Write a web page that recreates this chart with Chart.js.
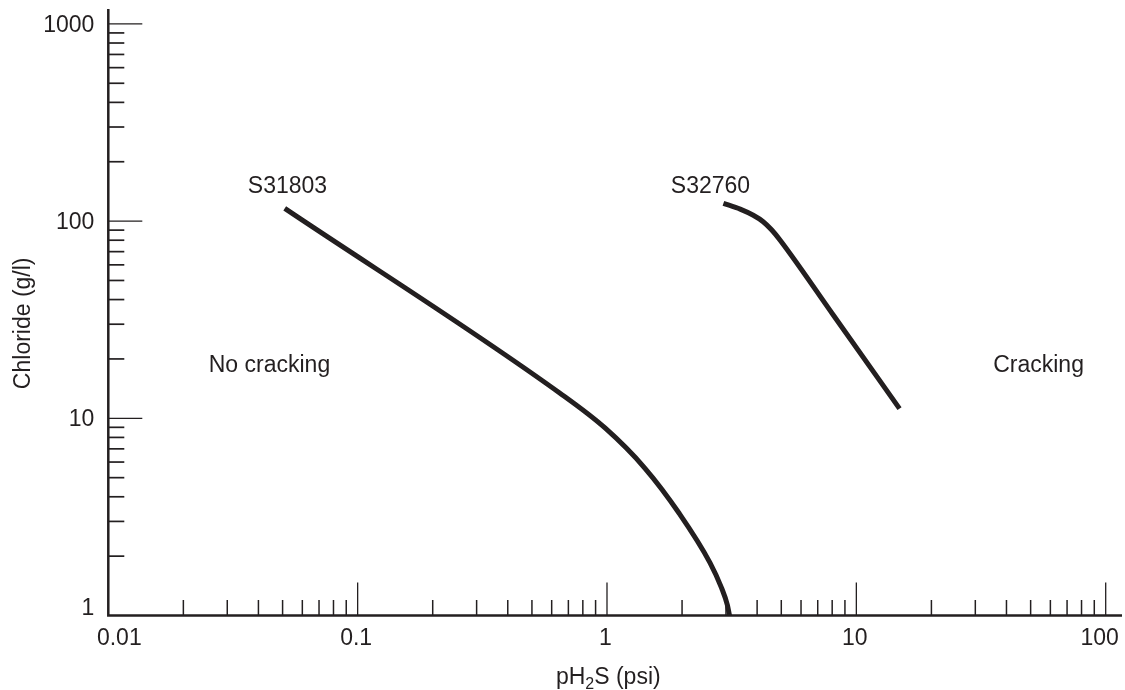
<!DOCTYPE html>
<html>
<head>
<meta charset="utf-8">
<script src="https://cdn.jsdelivr.net/npm/chart.js@4.4.1/dist/chart.umd.min.js"></script>
<style>
  html, body { margin: 0; padding: 0; background: #ffffff; }
  #wrap { width: 1125px; height: 690px; }
</style>
</head>
<body>
<div id="wrap"><canvas id="c" width="1125" height="690"></canvas></div>
<script>
// ---------------- data ----------------
const seriesNames = ['S31803', 'S32760'];
const s31803X = [0.051, 0.648, 0.982, 1.42, 1.95, 2.59, 2.88, 3.04, 3.10];
const s31803Y = [116, 13.4, 8.93, 5.58, 3.29, 1.85, 1.38, 1.13, 1.0];
const s32760X = [2.93, 3.42, 3.86, 4.23, 4.58, 4.94, 8.08, 14.9];
const s32760Y = [123, 115, 107, 99.3, 90.1, 80.2, 33.4, 11.2];
const regionLabels = ['No cracking', 'Cracking'];

const xTickValues = [0.01, 0.1, 1, 10, 100];
const xTickLabels = ['0.01', '0.1', '1', '10', '100'];
const xMinorTicks = [0.02, 0.03, 0.04, 0.05, 0.06, 0.07, 0.08, 0.09,
                     0.2, 0.3, 0.4, 0.5, 0.6, 0.7, 0.8, 0.9,
                     2, 3, 4, 5, 6, 7, 8, 9,
                     20, 30, 40, 50, 60, 70, 80, 90];
const yTickValues = [1, 10, 100, 1000];
const yTickLabels = ['1', '10', '100', '1000'];
const yMinorTicks = [2, 3, 4, 5, 6, 7, 8, 9,
                     20, 30, 40, 50, 60, 70, 80, 90,
                     200, 300, 400, 500, 600, 700, 800, 900];
const xTitleParts = ['pH', '2', 'S (psi)'];
const yTitle = 'Chloride (g/l)';

// ---------------- style ----------------
const FONT = '"Liberation Sans", Arial, Helvetica, sans-serif';
const INK = '#231f20';

const toPoints = (xs, ys) => xs.map((v, i) => ({ x: v, y: ys[i] }));

const paperAxes = {
  id: 'paperAxes',
  beforeDatasetsDraw(chart) {
    const { ctx, chartArea: a, scales: { x, y } } = chart;
    ctx.save();
    ctx.strokeStyle = INK;
    ctx.lineCap = 'butt';
    // x ticks (inward, upward)
    const xt = (v, len, w) => {
      const px = x.getPixelForValue(v);
      ctx.lineWidth = w;
      ctx.beginPath(); ctx.moveTo(px, a.bottom); ctx.lineTo(px, a.bottom - len); ctx.stroke();
    };
    xTickValues.slice(1).forEach(v => xt(v, 33, 1.3));
    xMinorTicks.forEach(v => xt(v, 15.5, 1.5));
    // y ticks (inward, rightward)
    const yt = (v, len, w) => {
      const py = y.getPixelForValue(v);
      ctx.lineWidth = w;
      ctx.beginPath(); ctx.moveTo(a.left, py); ctx.lineTo(a.left + len, py); ctx.stroke();
    };
    yTickValues.slice(1).forEach(v => yt(v, 34, 1.3));
    yMinorTicks.forEach(v => yt(v, 16, 1.7));
    // axis lines
    ctx.lineWidth = 2.5;
    ctx.lineJoin = 'miter';
    ctx.beginPath();
    ctx.moveTo(a.left, a.top);
    ctx.lineTo(a.left, a.bottom);
    ctx.lineTo(a.right, a.bottom);
    ctx.stroke();
    ctx.restore();
  },
  afterDraw(chart) {
    const { ctx, chartArea: a, scales: { x, y } } = chart;
    ctx.save();
    ctx.fillStyle = INK;
    ctx.font = '23px ' + FONT;
    // x tick labels
    ctx.textAlign = 'center';
    ctx.textBaseline = 'alphabetic';
    const last = xTickValues.length - 1;
    xTickValues.forEach((v, i) => {
      const dx = i === 0 ? 11 : (i === last ? -6 : -1.5);
      ctx.fillText(xTickLabels[i], x.getPixelForValue(v) + dx, a.bottom + 29.5);
    });
    // y tick labels
    ctx.textAlign = 'right';
    yTickValues.forEach((v, i) => {
      const py = y.getPixelForValue(v);
      const by = i === 0 ? py - 0.5 : py + 8;
      ctx.fillText(yTickLabels[i], a.left - 14, by);
    });
    // x title with subscript
    const w0 = ctx.measureText(xTitleParts[0]).width;
    ctx.font = '16px ' + FONT;
    const w1 = ctx.measureText(xTitleParts[1]).width;
    ctx.font = '23px ' + FONT;
    const w2 = ctx.measureText(xTitleParts[2]).width;
    const cx = 608.3;
    let sx = cx - (w0 + w1 + w2) / 2;
    const base = 684;
    ctx.textAlign = 'left';
    ctx.fillText(xTitleParts[0], sx, base);
    ctx.font = '16px ' + FONT;
    ctx.fillText(xTitleParts[1], sx + w0, base + 4.5);
    ctx.font = '23px ' + FONT;
    ctx.fillText(xTitleParts[2], sx + w0 + w1, base);
    // y title rotated
    ctx.save();
    ctx.translate(29.5, 323.3);
    ctx.rotate(-Math.PI / 2);
    ctx.textAlign = 'center';
    ctx.fillText(yTitle, 0, 0);
    ctx.restore();
    // annotations placed through the scales
    ctx.textAlign = 'center';
    const notes = [
      { t: seriesNames[0], vx: 0.0523, vy: 139 },
      { t: seriesNames[1], vx: 2.60, vy: 139 },
      { t: regionLabels[0], vx: 0.0443, vy: 17.2 },
      { t: regionLabels[1], vx: 53.8, vy: 17.2 }
    ];
    notes.forEach(n => ctx.fillText(n.t, x.getPixelForValue(n.vx), y.getPixelForValue(n.vy)));
    ctx.restore();
  }
};

new Chart(document.getElementById('c'), {
  type: 'line',
  data: {
    datasets: [
      { label: seriesNames[0], data: toPoints(s31803X, s31803Y) },
      { label: seriesNames[1], data: toPoints(s32760X, s32760Y) }
    ]
  },
  options: {
    responsive: false,
    animation: false,
    devicePixelRatio: 1,
    layout: { padding: { left: 108.3, top: 9, right: 3, bottom: 74.5 } },
    elements: {
      line: { borderColor: INK, borderWidth: 5, borderCapStyle: 'butt', borderJoinStyle: 'round', cubicInterpolationMode: 'monotone', fill: false },
      point: { radius: 0, hoverRadius: 0 }
    },
    plugins: { legend: { display: false }, tooltip: { enabled: false } },
    scales: {
      x: { type: 'logarithmic', display: false, min: 0.01, max: 116.25 },
      y: { type: 'logarithmic', display: false, min: 1, max: 1190 }
    }
  },
  plugins: [paperAxes]
});
</script>
</body>
</html>
